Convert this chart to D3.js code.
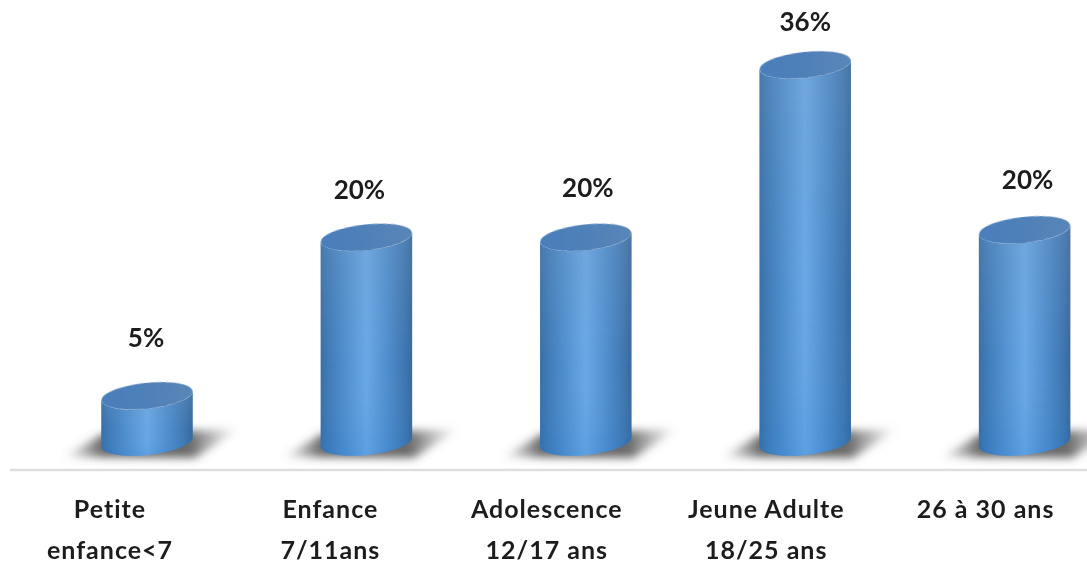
<!DOCTYPE html>
<html>
<head>
<meta charset="utf-8">
<script src="https://cdnjs.cloudflare.com/ajax/libs/d3/7.8.5/d3.min.js"></script>
<style>
  html, body { margin: 0; padding: 0; background: #fff; overflow: hidden; }
  text { font-family: Lato, "Open Sans", sans-serif; font-weight: 700; fill: #1f1f1f; }
</style>
</head>
<body>
<script>
// data
var categories = ["Petite|enfance<7", "Enfance|7/11ans", "Adolescence|12/17 ans", "Jeune Adulte|18/25 ans", "26 à 30 ans"];
var percentLabels = ["5%", "20%", "20%", "36%", "20%"];
// heights as drawn in the picture, they stray a little from the printed labels
var barValues = [5.3, 20, 20, 36, 20.7];

var width = 1087, height = 563;
var baseY = 442, barWidth = 92, ry = 13, tilt = -6;

var x = d3.scaleBand().domain(categories).range([37.3, 1134.3]);
var y = d3.scaleLinear().domain([0, 36]).range([453, 65]);

var svg = d3.select("body").append("svg")
    .attr("width", width)
    .attr("height", height);

var defs = svg.append("defs");

function gradient(id, x2, y2, stops) {
  var g = defs.append("linearGradient").attr("id", id)
      .attr("x1", 0).attr("y1", 0).attr("x2", x2).attr("y2", y2);
  stops.forEach(function(s) {
    g.append("stop").attr("offset", s[0]).attr("stop-color", s[1]).attr("stop-opacity", s[2] === undefined ? 1 : s[2]);
  });
}

gradient("side", 1, 0, [[0, "#336ca6"], [0.08, "#3b78b6"], [0.25, "#4b8ccd"], [0.5, "#67a8e8"], [0.75, "#4a8acb"], [0.92, "#3a74b0"], [1, "#33659b"]]);
gradient("veil", 0, 1, [[0, "#8da3bd", 0.25], [0.6, "#8da3bd", 0.05], [1, "#2f7fd0", 0.2]]);
gradient("cap", 1, 0, [[0, "#4a7fbc"], [0.5, "#4f80b8"], [1, "#5a86b8"]]);
gradient("shadow", 1, 0, [[0, "#666", 0], [0.22, "#4a4a4a", 0.82], [0.72, "#4a4a4a", 0.82], [1, "#777", 0]]);

defs.append("filter").attr("id", "blur").attr("x", "-20%").attr("y", "-50%").attr("width", "140%").attr("height", "200%")
  .append("feGaussianBlur").attr("stdDeviation", 4);
defs.append("filter").attr("id", "soft")
  .append("feGaussianBlur").attr("stdDeviation", 0.5);

// rim offset of a tilted ellipse
var dx = barWidth / 2 * Math.cos(tilt * Math.PI / 180),
    dy = barWidth / 2 * Math.sin(tilt * Math.PI / 180);

function sidePath(top) {
  return "M" + (-dx) + "," + (top - dy) +
    "L" + (-dx) + "," + (baseY - dy) +
    "A" + (barWidth / 2) + "," + ry + " " + tilt + " 0 0 " + dx + "," + (baseY + dy) +
    "L" + dx + "," + (top + dy) +
    "A" + (barWidth / 2) + "," + ry + " " + tilt + " 0 1 " + (-dx) + "," + (top - dy) + "Z";
}

// axis line
svg.append("line")
    .attr("x1", 10).attr("x2", width)
    .attr("y1", 470).attr("y2", 470)
    .attr("stroke", "#dedede").attr("stroke-width", 2.5);

var bars = svg.selectAll(".bar")
    .data(barValues)
  .enter().append("g")
    .attr("class", "bar")
    .attr("transform", function(d, i) { return "translate(" + (x(categories[i]) + x.bandwidth() / 2) + ",0)"; });

// cast shadow at the foot of each bar
bars.append("path")
    .attr("d", "M-84," + (baseY + 15) + "L-44," + (baseY - 8) + "L92," + (baseY - 13) + "L48," + (baseY + 16) + "Z")
    .attr("fill", "url(#shadow)")
    .attr("filter", "url(#blur)");

bars.append("path")
    .attr("filter", "url(#soft)")
    .attr("d", function(d) { return sidePath(y(d)); })
    .attr("fill", "url(#side)");

bars.append("path")
    .attr("filter", "url(#soft)")
    .attr("d", function(d) { return sidePath(y(d)); })
    .attr("fill", "url(#veil)");

bars.append("ellipse")
    .attr("filter", "url(#soft)")
    .attr("rx", barWidth / 2)
    .attr("ry", ry)
    .attr("transform", function(d) { return "translate(0," + y(d) + ") rotate(" + tilt + ")"; })
    .attr("fill", "url(#cap)");

// percent labels
var labelGap = [58, 47, 49, 43, 50], labelNudge = [-1, -7, 2, 0, 3];
bars.append("text")
    .attr("filter", "url(#soft)")
    .attr("x", function(d, i) { return labelNudge[i]; })
    .attr("y", function(d, i) { return y(d) - labelGap[i] + 9; })
    .attr("text-anchor", "middle")
    .attr("font-size", 26)
    .text(function(d, i) { return percentLabels[i]; });

// category labels sit left of their bars, axis only used for the ticks
var labelShift = [-37, -36, -39, -39, -39];
var axis = svg.append("g")
    .attr("transform", "translate(0,510)")
    .call(d3.axisBottom(x).tickSize(0).tickPadding(0));

axis.select(".domain").remove();

axis.selectAll(".tick text")
    .attr("filter", "url(#soft)")
    .attr("font-size", 25)
    .attr("letter-spacing", 1)
    .attr("y", 0)
    .attr("dy", null)
    .style("font-family", null)
    .each(function(d, i) {
      var t = d3.select(this).text(null);
      d.split("|").forEach(function(line, j) {
        t.append("tspan")
            .attr("x", labelShift[i])
            .attr("y", 8 + j * 41)
            .text(line);
      });
    });
</script>
</body>
</html>
